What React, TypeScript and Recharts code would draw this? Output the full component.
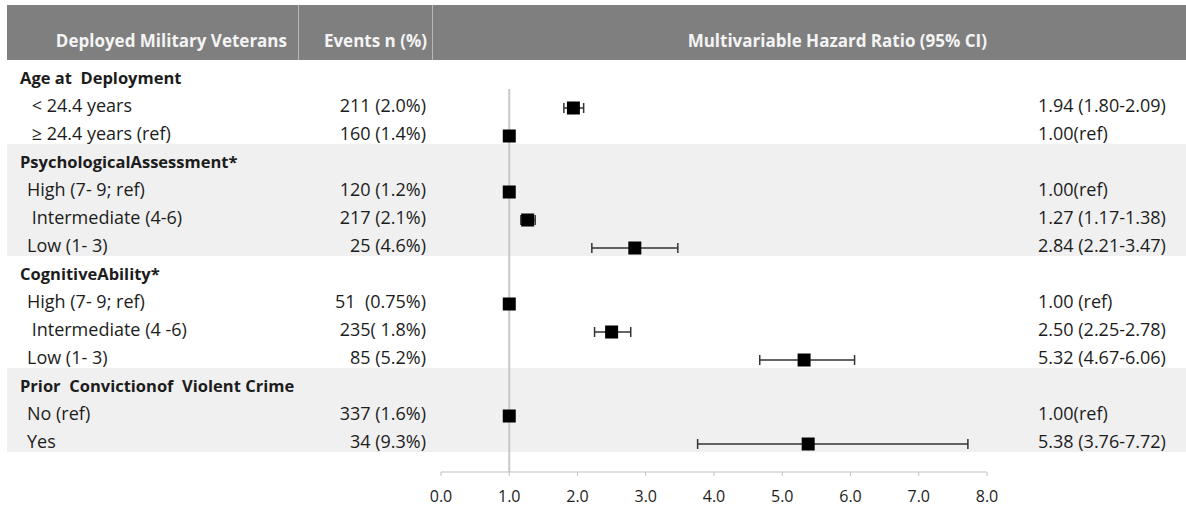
import React from 'react';
import {
    ScatterChart,
    Scatter,
    XAxis,
    YAxis,
    ErrorBar,
    ReferenceLine,
    ReferenceArea,
} from 'recharts';

// Rows of the forest plot, top to bottom
const rowLabels = [
    'Age at  Deployment',
    ' < 24.4 years',
    ' ≥ 24.4 years (ref)',
    'PsychologicalAssessment*',
    'High (7- 9; ref)',
    ' Intermediate (4-6)',
    'Low (1- 3)',
    'CognitiveAbility*',
    'High (7- 9; ref)',
    ' Intermediate (4 -6)',
    'Low (1- 3)',
    'Prior  Convictionof  Violent Crime',
    'No (ref)',
    'Yes',
];
const headerRows = [0, 3, 7, 11];
// first and last row of each shaded block
const shadedBlocks = [
    [3, 6],
    [11, 13],
];

const eventsText = [
    '', '211 (2.0%)', '160 (1.4%)',
    '', '120 (1.2%)', '217 (2.1%)', '25 (4.6%)',
    '', '51  (0.75%)', '235( 1.8%)', '85 (5.2%)',
    '', '337 (1.6%)', '34 (9.3%)',
];

const hrText = [
    '', '1.94 (1.80-2.09)', '1.00(ref)',
    '', '1.00(ref)', '1.27 (1.17-1.38)', '2.84 (2.21-3.47)',
    '', '1.00 (ref)', '2.50 (2.25-2.78)', '5.32 (4.67-6.06)',
    '', '1.00(ref)', '5.38 (3.76-7.72)',
];

// Hazard ratios with 95% CI (null = category header)
const hr = [null, 1.94, 1.0, null, 1.0, 1.27, 2.84, null, 1.0, 2.5, 5.32, null, 1.0, 5.38];
const ciLow = [null, 1.8, null, null, null, 1.17, 2.21, null, null, 2.25, 4.67, null, null, 3.76];
const ciHigh = [null, 2.09, null, null, null, 1.38, 3.47, null, null, 2.78, 6.06, null, null, 7.72];

const xTicks = [0, 1, 2, 3, 4, 5, 6, 7, 8];

const FONT = '"Open Sans", Lato, sans-serif';
const TEXT = '#1c1c1c';

const estimates = hr
    .map((v, i) => ({ row: i, hr: v, lo: ciLow[i], hi: ciHigh[i] }))
    .filter((d) => d.hr !== null && d.lo !== null)
    .map((d) => ({ ...d, err: [d.hr - d.lo, d.hi - d.hr] }));

const references = hr
    .map((v, i) => ({ row: i, hr: v, lo: ciLow[i] }))
    .filter((d) => d.hr !== null && d.lo === null);

const SquareMarker = ({ cx, cy }) => (
    <rect x={cx - 6.5} y={cy - 6.5} width={13} height={13} fill="#000" />
);

// shaded block stretched over the whole table width
const Band = ({ y, height }) => (
    <rect x={7} y={y - 6} width={1179} height={height} fill="#f0f0f0" />
);

// Y axis tick draws the table text of one row: label, events and HR
const RowTick = ({ y, payload }) => {
    const i = payload.value;
    const isHeader = headerRows.includes(i);
    const ty = y - 3;
    return (
        <g>
            <text
                x={isHeader ? 20 : 27}
                y={ty}
                dominantBaseline="central"
                fontFamily={FONT}
                fontSize={isHeader ? 16.5 : 18}
                fontWeight={isHeader ? 700 : 400}
                fill={TEXT}
                style={{ whiteSpace: 'pre' }}
            >
                {rowLabels[i]}
            </text>
            <text
                x={426}
                y={ty}
                textAnchor="end"
                dominantBaseline="central"
                fontFamily={FONT}
                fontSize={18}
                fill={TEXT}
                style={{ whiteSpace: 'pre' }}
            >
                {eventsText[i]}
            </text>
            <text
                x={1038}
                y={ty}
                dominantBaseline="central"
                fontFamily={FONT}
                fontSize={18}
                fill={TEXT}
            >
                {hrText[i]}
            </text>
        </g>
    );
};

const headerCell = {
    boxSizing: 'border-box',
    height: '100%',
    paddingTop: 16,
    display: 'flex',
    alignItems: 'center',
    justifyContent: 'flex-end',
    color: '#f4f4f4',
    fontWeight: 700,
    fontSize: 17,
};

export default function App() {
    return (
        <div
            style={{
                position: 'absolute',
                left: 0,
                top: 0,
                width: 1186,
                height: 507,
                background: '#fff',
                fontFamily: FONT,
            }}
        >
            {/* Table header */}
            <div
                style={{
                    position: 'absolute',
                    left: 7,
                    top: 5,
                    width: 1179,
                    height: 55,
                    background: '#7f7f7f',
                    display: 'flex',
                }}
            >
                <div style={{ ...headerCell, width: 291, paddingRight: 11 }}>
                    Deployed Military Veterans
                </div>
                <div style={{ ...headerCell, width: 134, paddingRight: 5, borderLeft: '1px solid #b8b8b8' }}>
                    Events n (%)
                </div>
                <div style={{ ...headerCell, flex: 1, paddingRight: 199, borderLeft: '1px solid #b8b8b8' }}>
                    Multivariable Hazard Ratio (95% CI)
                </div>
            </div>

            <ScatterChart
                width={1186}
                height={507}
                margin={{ top: 66, right: 199, bottom: 0, left: 0 }}
            >
                {shadedBlocks.map(([first, last]) => (
                    <ReferenceArea
                        key={first}
                        y1={first - 0.5}
                        y2={last + 0.5}
                        shape={(props) => <Band {...props} />}
                        ifOverflow="visible"
                    />
                ))}
                <YAxis
                    type="number"
                    dataKey="row"
                    domain={[-0.5, 14]}
                    reversed
                    ticks={rowLabels.map((_, i) => i)}
                    interval={0}
                    width={441}
                    axisLine={false}
                    tickLine={false}
                    tick={<RowTick />}
                />
                <XAxis
                    type="number"
                    dataKey="hr"
                    domain={[0, 8]}
                    ticks={xTicks}
                    interval={0}
                    tickFormatter={(v) => v.toFixed(1)}
                    height={35}
                    tickSize={4}
                    tickMargin={15}
                    stroke="#bfbfbf"
                    tick={{ fill: TEXT, fontSize: 16, fontFamily: FONT }}
                />
                <ReferenceLine
                    segment={[{ x: 1, y: 0.32 }, { x: 1, y: 14 }]}
                    stroke="#c8c8c8"
                    strokeWidth={2}
                />
                <Scatter
                    data={references}
                    shape={<SquareMarker />}
                    isAnimationActive={false}
                />
                <Scatter
                    data={estimates}
                    shape={<SquareMarker />}
                    isAnimationActive={false}
                >
                    <ErrorBar
                        dataKey="err"
                        direction="x"
                        width={5}
                        stroke="#333"
                        strokeWidth={1.5}
                    />
                </Scatter>
            </ScatterChart>
        </div>
    );
}
